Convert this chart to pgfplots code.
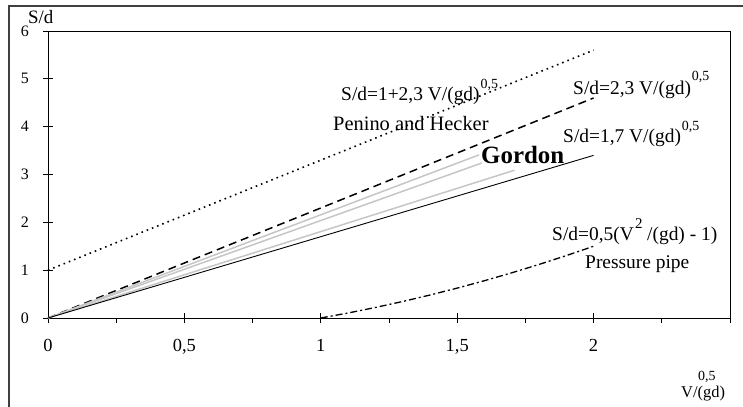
\documentclass[border=0pt]{standalone}
\usepackage{fontspec}
\setmainfont{Liberation Serif}
\usepackage{pgfplots}
\pgfplotsset{compat=1.18}
\newcommand\fs[1]{\fontsize{#1}{#1}\selectfont}
\begin{document}
\begin{tikzpicture}
\path[use as bounding box] (0,0) rectangle (743bp,-407bp);
\draw[line width=2bp, black!75] (743bp,-6bp) -- (9bp,-6bp) -- (9bp,-407bp);
\begin{axis}[at={(48bp,-318bp)}, anchor=south west, scale only axis,
  width=682bp, height=287bp,
  xmin=0, xmax=2.5, ymin=0, ymax=6,
  no markers, clip=false,
  axis line style={line width=0.8bp},
  xtick={0,0.5,1,1.5,2,2.5}, xticklabels={0,{0,5},1,{1,5},2,{}},
  minor xtick={0.25,0.75,1.25,1.75,2.25},
  ytick={0,1,2,3,4,5,6}, yticklabels={0,1,2,3,4,5,6},
  tick align=center, xtick pos=bottom, ytick pos=left,
  major tick length=10bp, minor tick length=5bp,
  minor x tick style={yshift=-2.5bp},
  tick style={black, line width=0.8bp},
  xticklabel style={font=\fs{18.5}, anchor=north, inner sep=0pt, yshift=-16bp},
  yticklabel style={font=\fs{16}, anchor=east, inner sep=0pt, xshift=-14bp},
]
% Penino and Hecker
\addplot[black, line width=1.6bp, dash pattern=on 1.6bp off 4bp] coordinates {(0,1) (2,5.6)};
% S/d = 2,3 V/(gd)^0,5
\addplot[black, line width=1.5bp, dash pattern=on 8bp off 5bp] coordinates {(0,0) (0.5,1.15) (1,2.3) (1.5,3.45) (2,4.6)};
% Gordon
\addplot[gray!45, line width=1.5bp] coordinates {(0,0) (1.58,3.41)};
\addplot[gray!45, line width=1.5bp] coordinates {(0,0) (1.59,3.24)};
\addplot[gray!45, line width=1.5bp] coordinates {(0,0) (1.71,3.09)};
% S/d = 1,7 V/(gd)^0,5
\addplot[black, line width=0.9bp] coordinates {(0,0) (2,3.4)};
% pressure pipe
\addplot[black, line width=1.3bp, dash pattern=on 7bp off 3bp on 2bp off 3bp] coordinates {
  (1,0) (1.1,0.105) (1.2,0.22) (1.3,0.345) (1.4,0.48) (1.5,0.625)
  (1.6,0.78) (1.7,0.945) (1.8,1.12) (1.9,1.305) (2,1.5)};
\end{axis}
\begin{scope}[x=1bp, y=1bp, every node/.style={inner sep=0pt, anchor=base west},
  sup/.style={font=\fs{14}, xshift=0.5bp, yshift=12bp}]
\node[font=\fs{19}] at (28,-23) {S/d};
\node[font=\fs{19.5}] (a) at (341,-100) {S/d=1+2,3 V/(gd)};
\node[sup] at (a.base east) {0,5};
\node[font=\fs{20.5}] at (333,-130) {Penino and Hecker};
\node[font=\fs{19.5}] (b) at (573,-94) {S/d=2,3 V/(gd)};
\node[sup, yshift=2bp] at (b.base east) {0,5};
\node[font=\fs{19.5}] (c) at (563,-142) {S/d=1,7 V/(gd)};
\node[sup] at (c.base east) {0,5};
\node[font=\fs{25}\bfseries] at (481,-163) {Gordon};
\node[font=\fs{19.5}] at (552,-240) {S/d=0,5(V};
\node[font=\fs{15}] at (635,-228) {2};
\node[font=\fs{19.5}] at (647,-240) {/(gd) - 1)};
\node[font=\fs{19.5}] at (585,-268) {Pressure pipe};
\node[font=\fs{16.5}] at (681,-397) {V/(gd)};
\node[font=\fs{14}] at (698,-380) {0,5};
\end{scope}
\end{tikzpicture}
\end{document}
